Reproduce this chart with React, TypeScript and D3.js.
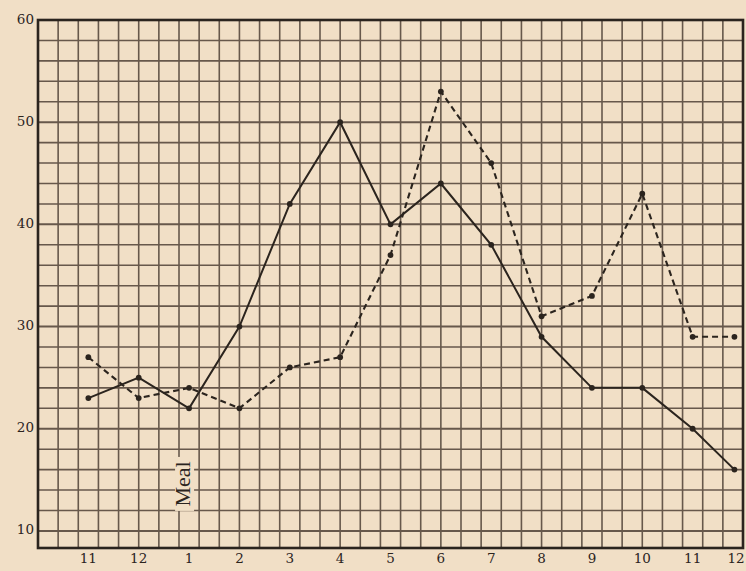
import React from "react";
import * as d3 from "d3";

const hourLabels = ["11", "12", "1", "2", "3", "4", "5", "6", "7", "8", "9", "10", "11", "12"];
// position of each plotted point along the hour axis (last point sits a little short of the final hour line)
const hourPos = [0, 1, 2, 3, 4, 5, 6, 7, 8, 9, 10, 11, 12, 12.83];
const solidValues = [23, 25, 22, 30, 42, 50, 40, 44, 38, 29, 24, 24, 20, 16];
const dashedValues = [27, 23, 24, 22, 26, 27, 37, 53, 46, 31, 33, 43, 29, 29];
const yTicks = [10, 20, 30, 40, 50, 60];

const W = 746;
const H = 571;
const BG = "#f1dfc6";
const INK = "#2b241e";
const GRID = "#4f4136";
const FONT = "'DejaVu Serif', 'Liberation Serif', serif";

export default function App() {
  const x = d3.scaleLinear().domain([-1, 13]).range([38, 743]);
  const y = d3.scaleLinear().domain([8.33, 60]).range([548, 20]);

  const vLines = d3.range(0, 36).map((k) => -1 + k * 0.4);
  const hLines = d3.range(10, 61, 2);

  const line = d3
    .line<number>()
    .x((_, i) => x(hourPos[i]))
    .y((d) => y(d));

  const solidPath = line(solidValues) || "";
  const dashedPath = line(dashedValues) || "";

  return (
    <svg
      width={W}
      height={H}
      style={{ position: "absolute", left: 0, top: 0, background: BG }}
    >
      <rect x={0} y={0} width={W} height={H} fill={BG} />
      {/* grid */}
      <g stroke={GRID} strokeWidth={1.6} opacity={0.85}>
        {vLines.map((v, i) => (
          <line key={"v" + i} x1={x(v)} x2={x(v)} y1={y(60)} y2={y(8.33)} />
        ))}
        {hLines.map((v, i) => (
          <line
            key={"h" + i}
            x1={x(-1)}
            x2={x(13)}
            y1={y(v)}
            y2={y(v)}
            strokeWidth={v % 10 === 0 ? 2 : 1.6}
          />
        ))}
      </g>
      {/* frame */}
      <rect
        x={x(-1)}
        y={y(60)}
        width={x(13) - x(-1)}
        height={y(8.33) - y(60)}
        fill="none"
        stroke={INK}
        strokeWidth={2.6}
      />
      {/* Meal label */}
      <g transform={`translate(${x(2) - 4},${y(14.6)}) rotate(-90)`}>
        <rect x={-27} y={-10} width={54} height={19} fill={BG} />
        <text
          x={0}
          y={0}
          textAnchor="middle"
          dominantBaseline="middle"
          fontFamily="'Liberation Serif', 'DejaVu Serif', serif"
          fontSize={22}
          fill={INK}
        >
          Meal
        </text>
      </g>
      {/* series */}
      <path d={dashedPath} fill="none" stroke={INK} strokeWidth={2.1} strokeDasharray="6,4" />
      <path d={solidPath} fill="none" stroke={INK} strokeWidth={2} />
      {dashedValues.map((v, i) => (
        <circle key={"dp" + i} cx={x(hourPos[i])} cy={y(v)} r={2.9} fill={INK} />
      ))}
      {solidValues.map((v, i) => (
        <circle key={"sp" + i} cx={x(hourPos[i])} cy={y(v)} r={2.9} fill={INK} />
      ))}
      {/* y tick labels */}
      {yTicks.map((t) => (
        <text
          key={"yt" + t}
          x={34}
          y={y(t)}
          textAnchor="end"
          dominantBaseline="middle"
          fontFamily={FONT}
          fontSize={13.5}
          fill={INK}
        >
          {t}
        </text>
      ))}
      {/* x tick labels */}
      {hourLabels.map((t, i) => (
        <text
          key={"xt" + i}
          x={Math.min(x(i), 736)}
          y={563}
          textAnchor="middle"
          fontFamily={FONT}
          fontSize={13.5}
          fill={INK}
        >
          {t}
        </text>
      ))}
    </svg>
  );
}
